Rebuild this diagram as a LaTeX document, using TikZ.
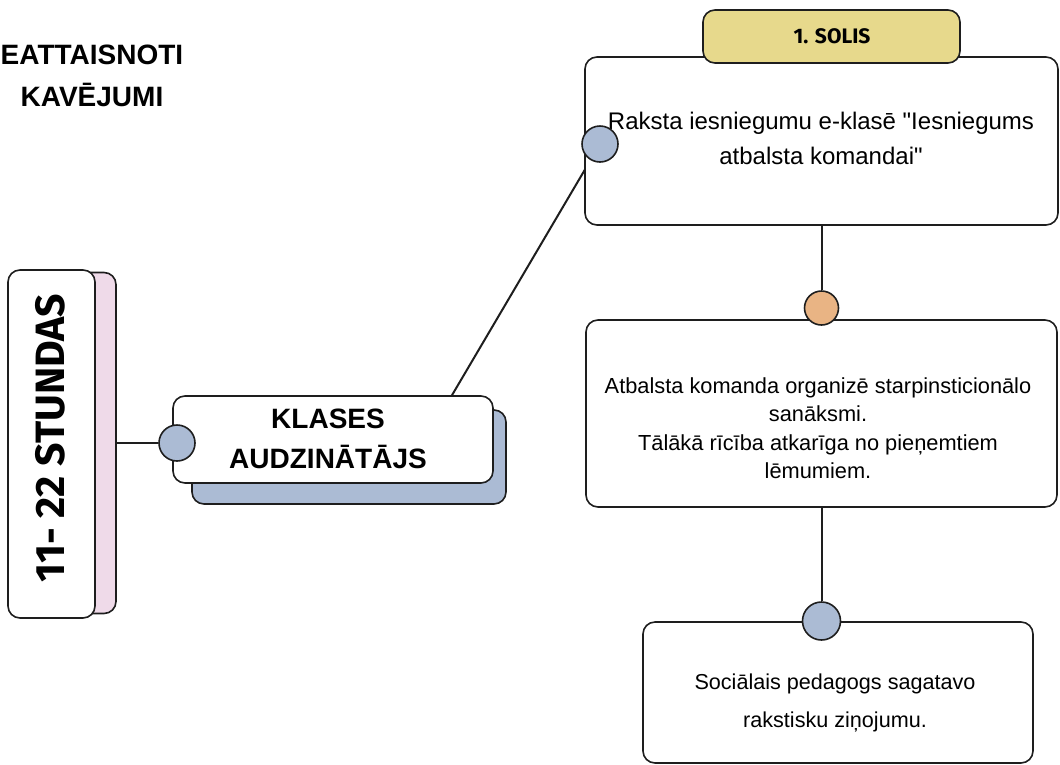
\documentclass[tikz,border=0pt]{standalone}
\usepackage{fontspec}
\setmainfont{Liberation Sans}[Ligatures=TeXOff]
\newfontfamily\markfont{Fira Sans}
\usepackage{tikz}
\usetikzlibrary{backgrounds}
\definecolor{dotblue}{RGB}{171,187,212}
\definecolor{dotorange}{RGB}{233,180,132}
\definecolor{tabyellow}{RGB}{231,217,140}
\definecolor{shpink}{RGB}{239,218,233}
\definecolor{ink}{RGB}{30,30,30}
\tikzstyle{box}=[draw=ink, line width=1.6pt, rounded corners=12pt, inner sep=0pt, fill=white]
\tikzstyle{dot}=[draw=ink, circle, line width=1.6pt, inner sep=0pt, minimum size=36pt, fill=dotblue]
\tikzstyle{link}=[draw=ink, line width=2pt]

\begin{document}
\begin{tikzpicture}[x=1pt,y=-1pt]
\useasboundingbox (0,0) rectangle (1060,764);
% title
\node[align=center, font=\bfseries\fontsize{28}{42}\selectfont] (title) at (92,76) {EATTAISNOTI\\KAVĒJUMI};
% hours box
\node[box, fill=shpink, minimum width=88pt, minimum height=341pt] (stundas-sh) at (72,443) {};
\node[box, minimum width=87pt, minimum height=348pt] (stundas) at (51.5,444) {};
\node[rotate=90, font=\markfont\bfseries\fontsize{41}{41}\selectfont] (stundas-txt) at (50,438) {11- 22 STUNDAS};
% class teacher
\node[box, fill=dotblue, minimum width=314pt, minimum height=94pt] (klases-sh) at (349,457) {};
\node[box, minimum width=320pt, minimum height=87pt] (klases) at (333,439.5) {};
\node[align=center, font=\bfseries\fontsize{28}{40}\selectfont] (klases-txt) at (328,439) {KLASES\\AUDZINĀTĀJS};
\coordinate (kl-top) at ([xshift=119pt]klases.north);
% steps
\node[box, minimum width=473pt, minimum height=168pt] (step1) at (821.5,141) {};
\node[box, fill=tabyellow, minimum width=257pt, minimum height=53pt] (tab) at (831.5,36.5) {};
\node[font=\markfont\bfseries\fontsize{21}{21}\selectfont] (tab-txt) at (832,36) {1. SOLIS};
\node[align=center, font=\fontsize{24}{35}\selectfont] (step1-txt) at (821,138) {Raksta iesniegumu e-klasē "Iesniegums\\atbalsta komandai"};
\node[box, minimum width=471pt, minimum height=187pt] (step2) at (821.5,413.5) {};
\node[align=center, font=\fontsize{21.8}{28.5}\selectfont] (step2-txt) at (818,428) {Atbalsta komanda organizē starpinsticionālo\\sanāksmi.\\Tālākā rīcība atkarīga no pieņemtiem\\lēmumiem.};
\node[box, minimum width=390pt, minimum height=141pt] (step3) at (838,692.5) {};
\node[align=center, font=\fontsize{21.6}{38}\selectfont] (step3-txt) at (835,703) {Sociālais pedagogs sagatavo\\rakstisku ziņojumu.};
% dots
\node[dot] (c0) at (177,443) {};
\node[dot] (c1) at (600,144) {};
\node[dot, fill=dotorange, minimum size=34pt] (c2) at (821.5,308) {};
\node[dot, minimum size=38pt] (c3) at (821.5,621) {};
\begin{scope}[on background layer]
\draw[link] (stundas-sh) -- (c0);
\draw[link] (c1.center) -- (kl-top);
\draw[link] (step1.south) -- (c2);
\draw[link] (step2.south) -- (c3);
\end{scope}
\end{tikzpicture}
\end{document}
